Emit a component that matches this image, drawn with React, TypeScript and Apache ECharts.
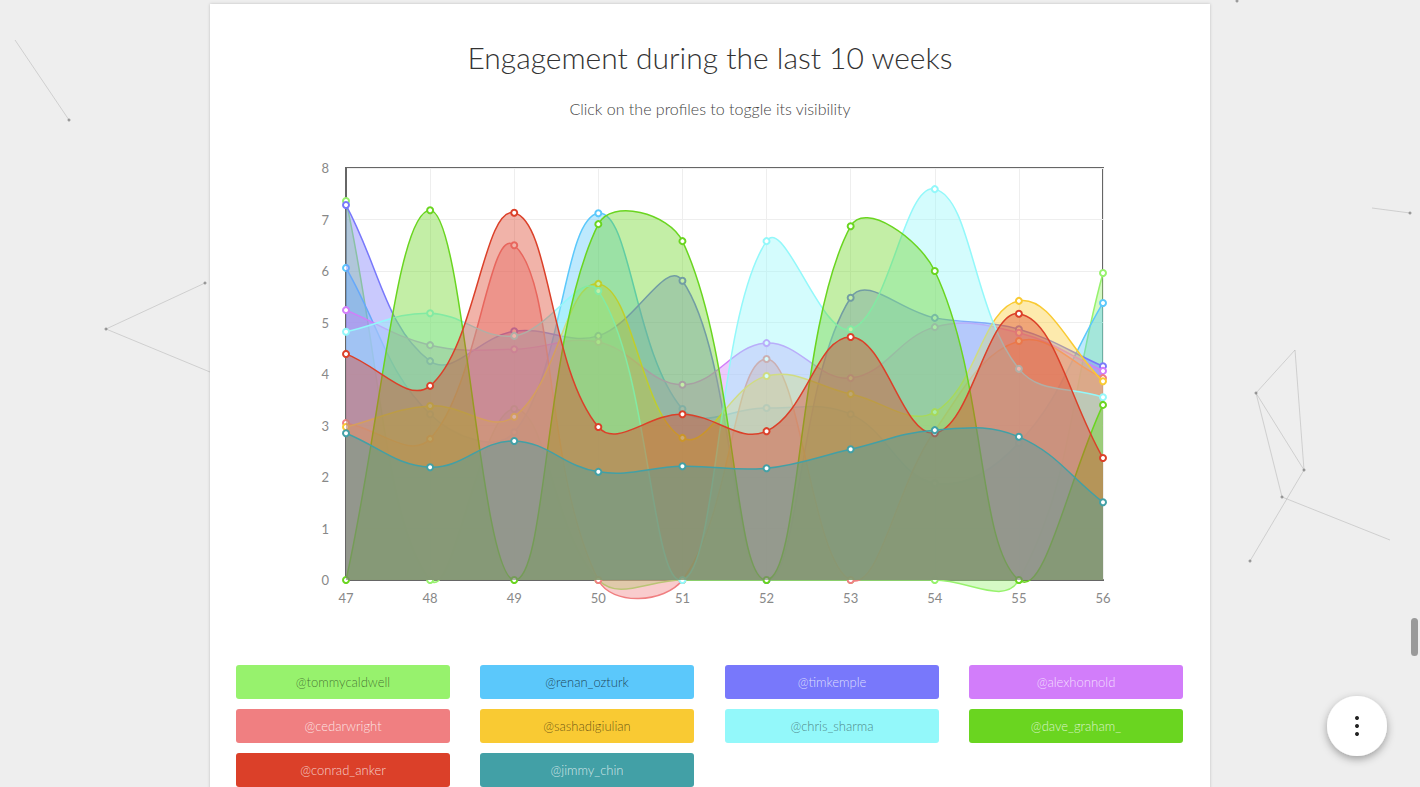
import React, { useEffect, useRef } from "react";
import * as echarts from "echarts";

const weeks = ["47", "48", "49", "50", "51", "52", "53", "54", "55", "56"];

const profiles = [
  "@tommycaldwell",
  "@renan_ozturk",
  "@timkemple",
  "@alexhonnold",
  "@cedarwright",
  "@sashadigiulian",
  "@chris_sharma",
  "@dave_graham_",
  "@conrad_anker",
  "@jimmy_chin",
];

const colors = [
  "#97F26D",
  "#5BC8FB",
  "#7878FB",
  "#D27DFA",
  "#F07F81",
  "#F9CA33",
  "#93F8FA",
  "#6AD520",
  "#DB4029",
  "#42A0A6",
];

const buttonTextColors = [
  "rgba(0,0,0,0.55)",
  "rgba(0,0,0,0.7)",
  "rgba(255,255,255,0.75)",
  "rgba(255,255,255,0.75)",
  "rgba(255,255,255,0.8)",
  "rgba(0,0,0,0.6)",
  "rgba(0,0,0,0.5)",
  "rgba(255,255,255,0.75)",
  "rgba(255,255,255,0.75)",
  "rgba(255,255,255,0.75)",
];

const tommycaldwell = [7.36, 0, 3.32, 0, 0, 0, 0, 0, 0, 5.96];
const renanOzturk = [6.06, 3.22, 2.87, 7.12, 3.32, 3.34, 3.22, 1.88, 2.66, 5.38];
const timkemple = [7.28, 4.25, 4.83, 4.74, 5.81, 0, 5.48, 5.09, 4.87, 4.15];
const alexhonnold = [5.24, 4.56, 4.48, 4.62, 3.79, 4.6, 3.92, 4.91, 4.8, 4.06];
const cedarwright = [3.05, 2.74, 6.5, 0, 0, 4.29, 0, 2.9, 4.64, 3.92];
const sashadigiulian = [2.97, 3.38, 3.17, 5.75, 2.76, 3.96, 3.61, 3.26, 5.42, 3.86];
const chrisSharma = [4.82, 5.18, 4.74, 5.61, 0, 6.58, 4.87, 7.59, 4.1, 3.55];
const daveGraham = [0, 7.18, 0, 6.91, 6.58, 0, 6.87, 6.0, 0, 3.4];
const conradAnker = [4.39, 3.77, 7.13, 2.97, 3.22, 2.89, 4.72, 2.85, 5.17, 2.37];
const jimmyChin = [2.85, 2.19, 2.7, 2.1, 2.21, 2.17, 2.54, 2.91, 2.78, 1.51];

const seriesValues = [
  tommycaldwell,
  renanOzturk,
  timkemple,
  alexhonnold,
  cedarwright,
  sashadigiulian,
  chrisSharma,
  daveGraham,
  conradAnker,
  jimmyChin,
];

const yTicks = [0, 8, 1];
const TENSION = 0.4;

const FONT = "Lato, 'Open Sans', sans-serif";

function hexA(hex: string, a: number) {
  const r = parseInt(hex.slice(1, 3), 16);
  const g = parseInt(hex.slice(3, 5), 16);
  const b = parseInt(hex.slice(5, 7), 16);
  return `rgba(${r},${g},${b},${a})`;
}

// Chart.js style spline control points
function controlPoints(pts: number[][], t: number) {
  const res: { prev: number[]; next: number[] }[] = [];
  for (let i = 0; i < pts.length; i++) {
    const cur = pts[i];
    const prev = i > 0 ? pts[i - 1] : cur;
    const next = i < pts.length - 1 ? pts[i + 1] : cur;
    const d01 = Math.hypot(cur[0] - prev[0], cur[1] - prev[1]);
    const d12 = Math.hypot(next[0] - cur[0], next[1] - cur[1]);
    let s01 = d01 / (d01 + d12);
    let s12 = d12 / (d01 + d12);
    if (isNaN(s01)) s01 = 0;
    if (isNaN(s12)) s12 = 0;
    const fa = t * s01;
    const fb = t * s12;
    res.push({
      prev: [cur[0] - fa * (next[0] - prev[0]), cur[1] - fa * (next[1] - prev[1])],
      next: [cur[0] + fb * (next[0] - prev[0]), cur[1] + fb * (next[1] - prev[1])],
    });
  }
  return res;
}

function curvePath(pts: number[][]) {
  const cps = controlPoints(pts, TENSION);
  let d = `M${pts[0][0]},${pts[0][1]}`;
  for (let i = 1; i < pts.length; i++) {
    const a = cps[i - 1].next;
    const b = cps[i].prev;
    d += ` C${a[0]},${a[1]} ${b[0]},${b[1]} ${pts[i][0]},${pts[i][1]}`;
  }
  return d;
}

function buildGraphics() {
  const els: any[] = [];
  const lineC = "rgba(150,150,150,0.35)";
  const dotC = "rgba(120,120,120,0.7)";
  const segs = [
    [15, 40, 69, 120],
    [106, 329, 205, 283],
    [106, 329, 210, 372],
    [1372, 208, 1410, 213],
    [1256, 393, 1295, 350],
    [1256, 393, 1304, 470],
    [1295, 350, 1304, 470],
    [1304, 470, 1250, 561],
    [1282, 497, 1390, 540],
    [1256, 393, 1282, 497],
  ];
  segs.forEach((s) =>
    els.push({
      type: "line",
      z: -20,
      shape: { x1: s[0], y1: s[1], x2: s[2], y2: s[3] },
      style: { stroke: lineC, lineWidth: 1 },
    })
  );
  const dots = [
    [69, 120],
    [106, 329],
    [205, 283],
    [1410, 213],
    [1256, 393],
    [1304, 470],
    [1282, 497],
    [1250, 561],
    [1237, 1],
  ];
  dots.forEach((d) =>
    els.push({
      type: "circle",
      z: -20,
      shape: { cx: d[0], cy: d[1], r: 1.5 },
      style: { fill: dotC },
    })
  );
  els.push({
    type: "rect",
    z: -10,
    shape: { x: 210, y: 4, width: 1000, height: 800 },
    style: { fill: "#ffffff", shadowBlur: 3, shadowColor: "rgba(0,0,0,0.2)" },
  });
  const colX = [236, 480, 725, 969];
  const rowY = [665, 709, 753];
  profiles.forEach((p, i) => {
    const x = colX[i % 4];
    const y = rowY[Math.floor(i / 4)];
    els.push({
      type: "rect",
      z: 10,
      shape: { x, y, width: 214, height: 34, r: 3 },
      style: { fill: colors[i] },
    });
    els.push({
      type: "text",
      z: 11,
      x: x + 107,
      y: y + 17,
      style: {
        text: p,
        fill: buttonTextColors[i],
        font: `300 13px ${FONT}`,
        align: "center",
        verticalAlign: "middle",
      },
    });
  });
  els.push({
    type: "circle",
    z: 10,
    shape: { cx: 1357, cy: 726, r: 30 },
    style: {
      fill: "#ffffff",
      shadowBlur: 8,
      shadowOffsetY: 3,
      shadowColor: "rgba(0,0,0,0.35)",
    },
  });
  [718, 726, 734].forEach((cy) =>
    els.push({
      type: "circle",
      z: 11,
      shape: { cx: 1357, cy, r: 2 },
      style: { fill: "#222" },
    })
  );
  els.push({
    type: "rect",
    z: 10,
    shape: { x: 1411, y: 618, width: 7, height: 38, r: 3.5 },
    style: { fill: "#9a9a9a" },
  });
  return els;
}

export default function App() {
  const ref = useRef<HTMLDivElement>(null);
  useEffect(() => {
    if (!ref.current) return;
    const chart = echarts.init(ref.current, undefined, { renderer: "svg" });
    const series: any[] = seriesValues.map((vals, i) => {
      const color = colors[i];
      return {
        name: profiles[i],
        type: "custom",
        coordinateSystem: "cartesian2d",
        data: vals.map((v, j) => [j, v]),
        encode: { x: 0, y: 1 },
        clip: false,
        renderItem: (params: any, api: any) => {
          const idx = params.dataIndex;
          const children: any[] = [];
          if (idx === 0) {
            const pts = vals.map((v, j) => api.coord([j, v]));
            const base = api.coord([0, 0])[1];
            const line = curvePath(pts);
            const last = pts[pts.length - 1];
            const area = `${line} L${last[0]},${base} L${pts[0][0]},${base} Z`;
            children.push({
              type: "path",
              shape: { pathData: area },
              style: { fill: hexA(color, 0.4), stroke: "none" },
            });
            children.push({
              type: "path",
              shape: { pathData: line },
              style: { fill: "none", stroke: color, lineWidth: 1.5 },
            });
          }
          const p = api.coord([idx, vals[idx]]);
          children.push({
            type: "circle",
            shape: { cx: p[0], cy: p[1], r: 3 },
            style: { fill: "#ffffff", stroke: color, lineWidth: 2 },
          });
          return { type: "group", children };
        },
      };
    });
    chart.setOption({
      animation: false,
      backgroundColor: "#eeeeee",
      textStyle: { fontFamily: FONT },
      title: [
        {
          text: "Engagement during the last 10 weeks",
          left: "center",
          top: 37,
          textStyle: {
            fontFamily: FONT,
            fontSize: 30,
            fontWeight: 300,
            color: "#333",
          },
        },
        {
          text: "Click on the profiles to toggle its visibility",
          left: "center",
          top: 95,
          textStyle: {
            fontFamily: FONT,
            fontSize: 16,
            fontWeight: 300,
            color: "#444",
          },
        },
      ],
      grid: {
        left: 346,
        top: 168,
        right: 317,
        bottom: 207,
        show: true,
        borderColor: "#666",
        borderWidth: 2,
        backgroundColor: "transparent",
      },
      xAxis: {
        type: "category",
        data: weeks,
        boundaryGap: false,
        axisLine: { show: true, lineStyle: { color: "#666", width: 2 } },
        axisTick: { show: false },
        splitLine: { show: true, lineStyle: { color: "#eeeeee" } },
        axisLabel: {
          color: "#888",
          fontSize: 13,
          fontFamily: FONT,
          margin: 11,
        },
      },
      yAxis: {
        type: "value",
        min: yTicks[0],
        max: yTicks[1],
        interval: yTicks[2],
        axisLine: { show: true, lineStyle: { color: "#666", width: 2 } },
        axisTick: { show: false },
        splitLine: { show: true, lineStyle: { color: "#eeeeee" } },
        axisLabel: {
          color: "#888",
          fontSize: 13,
          fontFamily: FONT,
          margin: 17,
        },
      },
      graphic: { elements: buildGraphics() },
      series,
    });
    return () => chart.dispose();
  }, []);
  return (
    <div
      ref={ref}
      style={{
        position: "fixed",
        left: 0,
        top: 0,
        width: 1420,
        height: 787,
      }}
    />
  );
}
